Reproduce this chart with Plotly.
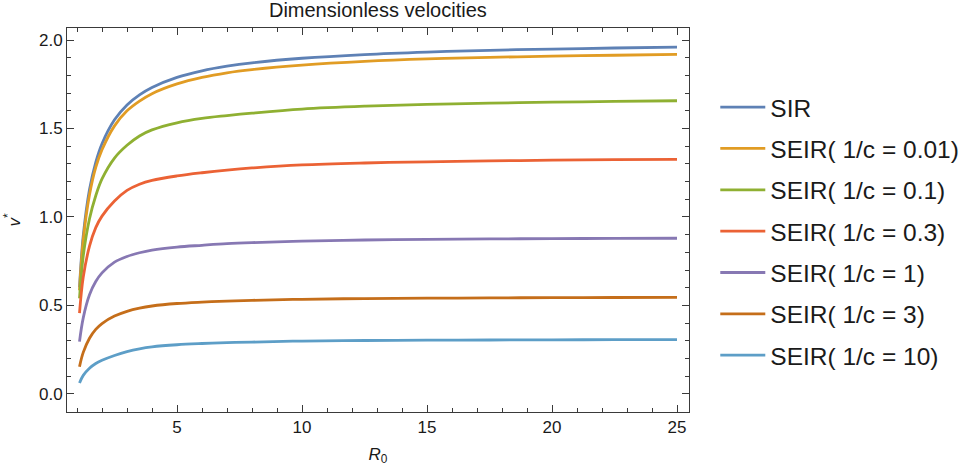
import plotly.graph_objects as go

# Basic reproduction number on the horizontal axis
r0 = [1.1, 1.25, 1.5, 1.75, 2, 2.5, 3, 3.5, 4, 5, 6, 7, 8, 10, 12.5, 15, 17.5, 20, 22.5, 25]

# Dimensionless front velocity v* for each model
v_sir = [0.603, 0.894, 1.155, 1.309, 1.414, 1.549, 1.633, 1.690, 1.732, 1.789, 1.826, 1.852,
         1.871, 1.897, 1.918, 1.932, 1.942, 1.949, 1.955, 1.960]
v_seir_001 = [0.585, 0.870, 1.125, 1.280, 1.380, 1.515, 1.600, 1.655, 1.697, 1.752, 1.789, 1.815,
              1.833, 1.858, 1.879, 1.893, 1.902, 1.909, 1.914, 1.919]
v_seir_01 = [0.540, 0.780, 0.990, 1.120, 1.215, 1.333, 1.405, 1.458, 1.492, 1.532, 1.557, 1.573,
             1.587, 1.610, 1.626, 1.636, 1.643, 1.649, 1.653, 1.657]
v_seir_03 = [0.457, 0.660, 0.835, 0.940, 1.005, 1.090, 1.150, 1.185, 1.207, 1.232, 1.250, 1.265,
             1.277, 1.294, 1.305, 1.312, 1.317, 1.321, 1.324, 1.326]
v_seir_1 = [0.296, 0.430, 0.560, 0.635, 0.684, 0.745, 0.777, 0.798, 0.813, 0.830, 0.840, 0.849,
            0.855, 0.864, 0.870, 0.874, 0.876, 0.878, 0.879, 0.880]
v_seir_3 = [0.154, 0.235, 0.315, 0.365, 0.398, 0.440, 0.467, 0.485, 0.497, 0.511, 0.519, 0.525,
            0.529, 0.535, 0.539, 0.541, 0.543, 0.544, 0.545, 0.546]
v_seir_10 = [0.062, 0.105, 0.145, 0.172, 0.190, 0.217, 0.239, 0.255, 0.266, 0.278, 0.285, 0.290,
             0.293, 0.299, 0.302, 0.304, 0.305, 0.306, 0.3065, 0.307]

names = ["SIR", "SEIR( 1/c = 0.01)", "SEIR( 1/c = 0.1)", "SEIR( 1/c = 0.3)",
         "SEIR( 1/c = 1)", "SEIR( 1/c = 3)", "SEIR( 1/c = 10)"]
series = [v_sir, v_seir_001, v_seir_01, v_seir_03, v_seir_1, v_seir_3, v_seir_10]
colors = ["#5E81B5", "#E19C24", "#8FB032", "#EB6235", "#8778B3", "#C56E1A", "#5D9EC7"]

FONT = "Liberation Sans, Arial, sans-serif"
AXIS_COLOR = "#3a3a3a"
TEXT_COLOR = "#1a1a1a"

fig = go.Figure()
for i, (name, ys, col) in enumerate(zip(names, series, colors)):
    fig.add_trace(go.Scatter(
        x=r0, y=ys, name=name, mode="lines",
        line=dict(color=col, width=2.8, shape="spline", smoothing=1.0),
        legendgroup=f"g{i}",
    ))

axis_common = dict(
    showgrid=False, zeroline=False, automargin=False,
    showline=True, linecolor=AXIS_COLOR, linewidth=1,
    mirror="ticks", ticks="inside", ticklen=7, tickwidth=1, tickcolor=AXIS_COLOR,
    tickfont=dict(family=FONT, size=17, color=TEXT_COLOR),
)

fig.update_xaxes(
    **axis_common,
    range=[0.6, 25.48], tick0=0, dtick=5,
    minor=dict(dtick=1, tick0=0, ticks="inside", ticklen=4, tickcolor=AXIS_COLOR, showgrid=False),
    title=dict(text="<i>R</i><sub>0</sub>", font=dict(family=FONT, size=17, color=TEXT_COLOR), standoff=11),
)
fig.update_yaxes(
    **axis_common,
    range=[-0.102, 2.068], tick0=0, dtick=0.5, tickformat=".1f",
    minor=dict(dtick=0.1, tick0=0, ticks="inside", ticklen=4, tickcolor=AXIS_COLOR, showgrid=False),
    title=dict(text="<i>v</i><sup>*</sup>", font=dict(family=FONT, size=17, color=TEXT_COLOR), standoff=14),
)

fig.update_layout(
    width=964, height=468,
    margin=dict(l=67, r=275, t=28, b=56),
    paper_bgcolor="white", plot_bgcolor="white",
    title=dict(text="Dimensionless velocities", x=0.392, xanchor="center", y=0.993, yanchor="top",
               font=dict(family=FONT, size=20, color=TEXT_COLOR)),
    legend=dict(
        xref="container", yref="container",
        x=0.742, xanchor="left", y=0.506, yanchor="middle",
        font=dict(family=FONT, size=24.5, color=TEXT_COLOR),
        tracegroupgap=6.5, itemwidth=45, maxheight=460,
        bgcolor="rgba(0,0,0,0)", borderwidth=0,
    ),
    showlegend=True,
)

fig.write_html("out.html")
